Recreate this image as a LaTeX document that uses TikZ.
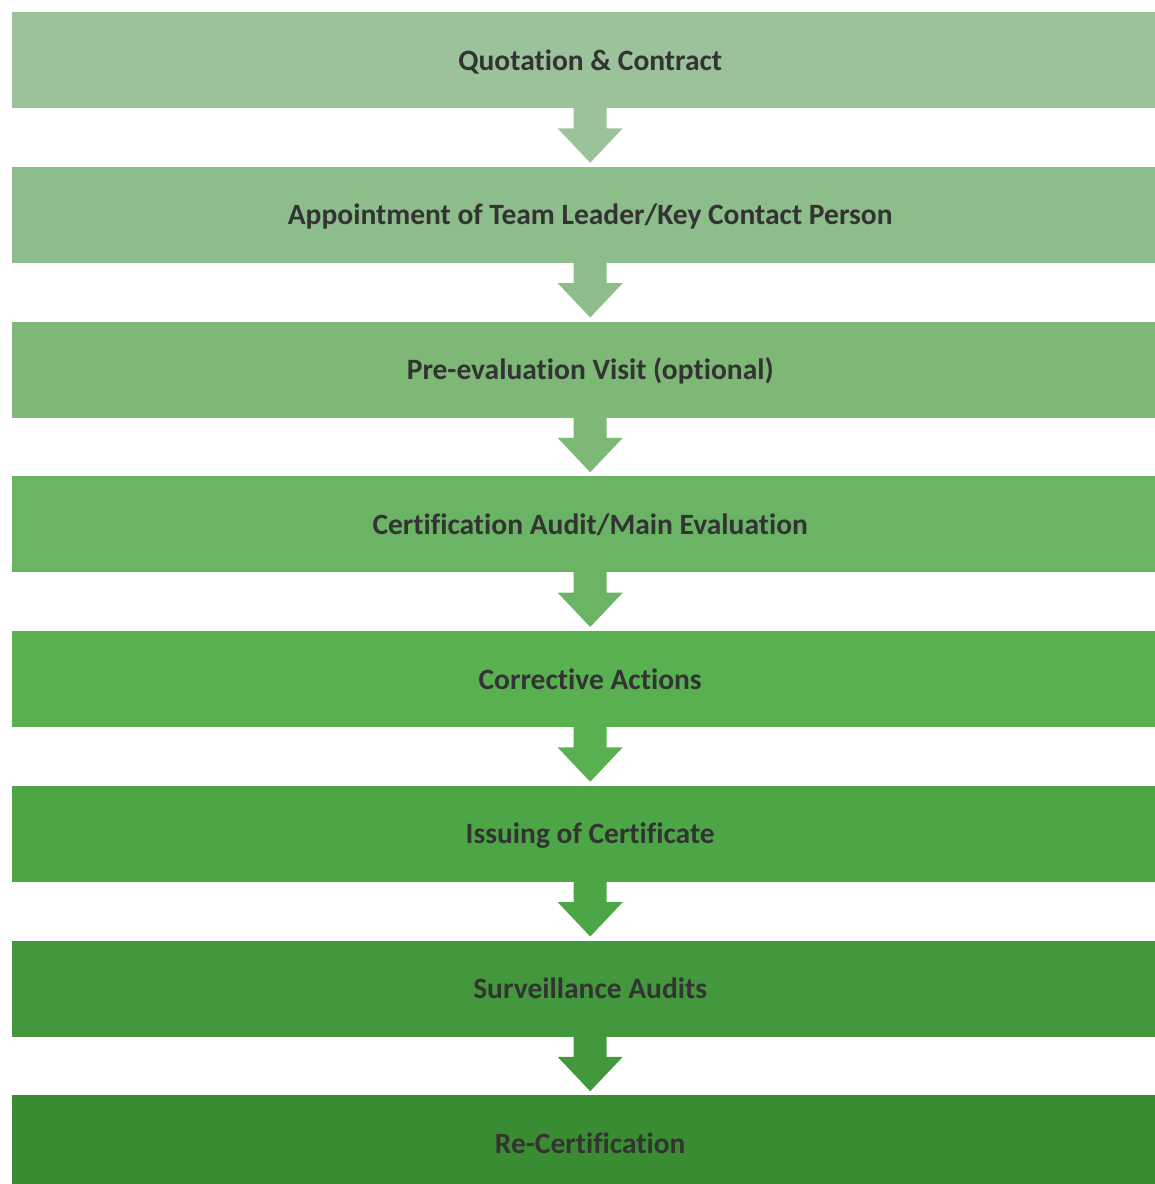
\documentclass[tikz,border=0pt]{standalone}
\usepackage{fontspec}
\setmainfont{Carlito}[Ligatures=CommonOff]
\usetikzlibrary{calc}
\definecolor{c1}{RGB}{155,194,154}
\definecolor{c2}{RGB}{141,189,138}
\definecolor{c3}{RGB}{125,184,119}
\definecolor{c4}{RGB}{107,179,101}
\definecolor{c5}{RGB}{88,176,80}
\definecolor{c6}{RGB}{76,166,69}
\definecolor{c7}{RGB}{67,152,61}
\definecolor{c8}{RGB}{58,140,50}
\definecolor{txt}{RGB}{51,51,51}
\tikzset{
  stepbox/.style={draw=none, minimum width=1156pt, minimum height=96pt, inner sep=0pt,
    text height=23pt, text depth=3pt,
    anchor=north west, font=\fontsize{29.5}{34}\selectfont\bfseries, text=txt},
}
\newcommand{\flowarrow}[3]{%
  \fill[#3] ($(#1.south)+(-16.5pt,2pt)$) -- ($(#1.south)+(16.5pt,2pt)$)
    -- ($(#1.south)+(16.5pt,-20pt)$) -- ($(#1.south)+(32.5pt,-20pt)$)
    -- ($(#2.north)+(0,4pt)$)
    -- ($(#1.south)+(-32.5pt,-20pt)$) -- ($(#1.south)+(-16.5pt,-20pt)$) -- cycle;}
\begin{document}
\begin{tikzpicture}[x=1pt,y=1pt]
\useasboundingbox (0,0) rectangle (1155,-1184);
\clip (0,0) rectangle (1155,-1184);
\node[stepbox, fill=c1] (b1) at (12,-12) {Quotation \& Contract};
\node[stepbox, fill=c2] (b2) at (12,-166.75) {Appointment of Team Leader/Key Contact Person};
\node[stepbox, fill=c3] (b3) at (12,-321.5) {Pre-evaluation Visit (optional)};
\node[stepbox, fill=c4] (b4) at (12,-476.25) {Certification Audit/Main Evaluation};
\node[stepbox, fill=c5] (b5) at (12,-631) {Corrective Actions};
\node[stepbox, fill=c6] (b6) at (12,-785.75) {Issuing of Certificate};
\node[stepbox, fill=c7] (b7) at (12,-940.5) {Surveillance Audits};
\node[stepbox, fill=c8] (b8) at (12,-1095.25) {Re-Certification};
\flowarrow{b1}{b2}{c1}
\flowarrow{b2}{b3}{c2}
\flowarrow{b3}{b4}{c3}
\flowarrow{b4}{b5}{c4}
\flowarrow{b5}{b6}{c5}
\flowarrow{b6}{b7}{c6}
\flowarrow{b7}{b8}{c7}
\end{tikzpicture}
\end{document}
